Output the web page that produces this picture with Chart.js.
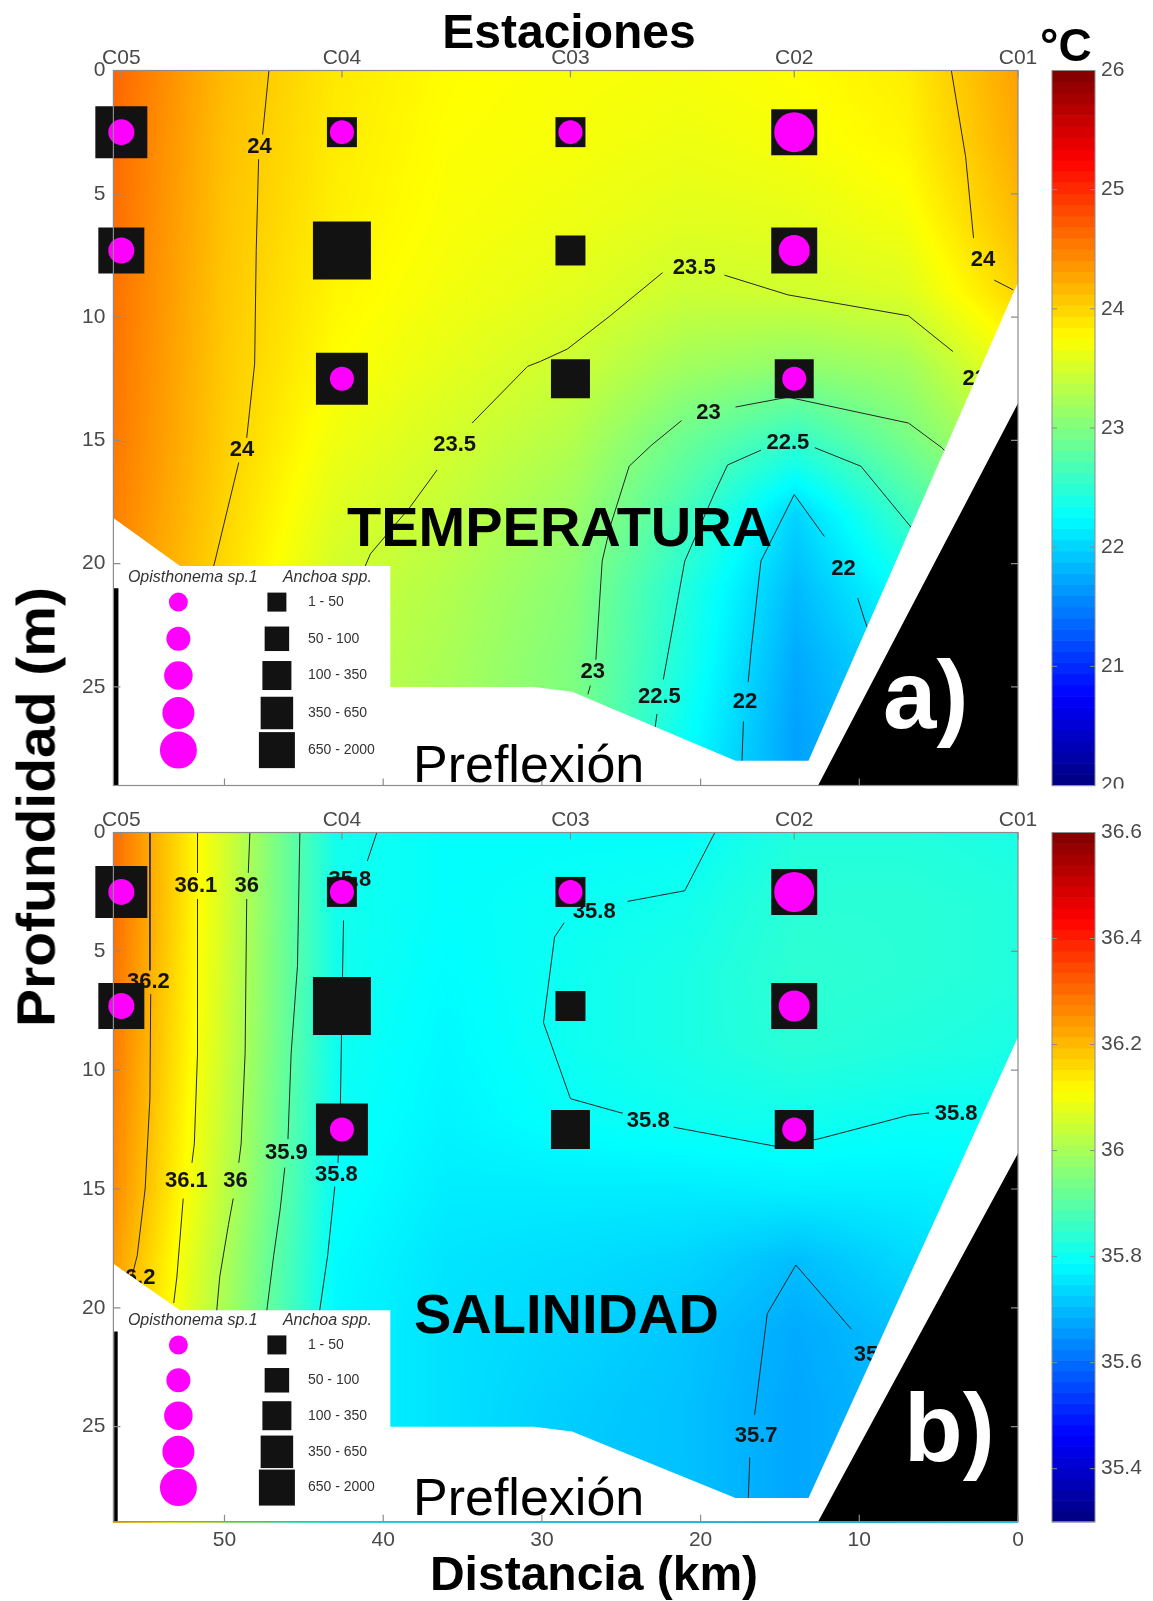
<!DOCTYPE html>
<html><head><meta charset="utf-8">
<script src="https://cdn.jsdelivr.net/npm/chart.js@4.4.1/dist/chart.umd.min.js"></script>
<style>
html,body{margin:0;padding:0;background:#fff}
body{position:relative;width:1153px;height:1601px;overflow:hidden;font-family:"Liberation Sans",Arial,sans-serif}
canvas{position:absolute;left:0}
.t{position:absolute;white-space:nowrap;line-height:1;color:#000;font-weight:bold}
</style></head><body>
<canvas id="panelA" width="1153" height="800" style="top:0"></canvas>
<canvas id="panelB" width="1153" height="801" style="top:800px"></canvas>
<div class="t" style="left:569px;top:8px;font-size:48px;transform:translateX(-50%)">Estaciones</div>
<div class="t" style="left:1040px;top:22px;font-size:46px">°C</div>
<div class="t" style="left:347px;top:499px;font-size:56px">TEMPERATURA</div>
<div class="t" style="left:414px;top:1286px;font-size:56px">SALINIDAD</div>
<div class="t" style="left:413px;top:738px;font-size:52px;font-weight:normal">Preflexión</div>
<div class="t" style="left:413px;top:1471px;font-size:52px;font-weight:normal">Preflexión</div>
<div class="t" style="left:883px;top:647px;font-size:96px;color:#fff">a)</div>
<div class="t" style="left:904px;top:1380px;font-size:96px;color:#fff">b)</div>
<div class="t" style="left:36px;top:807px;font-size:53px;transform:translate(-50%,-50%) rotate(-90deg) scaleX(1.075)">Profundidad (m)</div>
<div class="t" style="left:594px;top:1550px;font-size:48px;transform:translateX(-50%)">Distancia (km)</div>
<script>
// ---------- DATA ----------
const stationNames = ['C05','C04','C03','C02','C01'];
const stationKm = [56.5, 42.6, 28.2, 14.1, 0];
const distanceTicks = [0, 10, 20, 30, 40, 50];
const depthTicks = [0, 5, 10, 15, 20, 25];
const distanceMax = 57;
const depthMax = 29;

const gridKm = [57, 50, 43, 36, 28, 21, 14, 7, 0];
const gridDepth = [0, 3, 6, 9, 12, 15, 18, 21, 24, 27, 29];

const temperatureGrid = [
  [24.65,24.15,23.88,23.76,23.72,23.70,23.75,23.85,24.30],
  [24.62,24.12,23.86,23.74,23.70,23.65,23.70,23.80,24.25],
  [24.60,24.10,23.84,23.72,23.65,23.58,23.60,23.70,24.15],
  [24.58,24.08,23.80,23.68,23.58,23.45,23.48,23.55,24.00],
  [24.56,24.06,23.75,23.60,23.45,23.20,23.10,23.20,23.70],
  [24.54,24.04,23.66,23.50,23.30,22.88,22.55,22.95,23.40],
  [24.50,24.00,23.56,23.40,23.15,22.65,22.00,22.60,23.10],
  [24.45,23.96,23.46,23.30,23.05,22.45,21.85,22.30,22.80],
  [24.40,23.92,23.40,23.25,23.00,22.40,21.75,22.10,22.60],
  [24.40,23.90,23.38,23.22,22.98,22.30,21.70,22.00,22.50],
  [24.40,23.90,23.36,23.20,22.95,22.25,21.70,22.00,22.50]
];
const salinityGrid = [
  [36.30,36.06,35.81,35.79,35.79,35.79,35.83,35.83,35.82],
  [36.30,36.06,35.81,35.79,35.80,35.81,35.84,35.84,35.83],
  [36.29,36.055,35.81,35.785,35.805,35.82,35.845,35.84,35.83],
  [36.28,36.05,35.805,35.78,35.805,35.82,35.84,35.83,35.82],
  [36.27,36.04,35.80,35.775,35.795,35.805,35.81,35.80,35.80],
  [36.26,36.03,35.795,35.765,35.765,35.765,35.77,35.77,35.78],
  [36.24,36.01,35.785,35.755,35.745,35.735,35.705,35.74,35.76],
  [36.23,36.00,35.78,35.75,35.735,35.715,35.68,35.71,35.75],
  [36.22,36.00,35.78,35.75,35.725,35.71,35.675,35.70,35.74],
  [36.22,36.00,35.78,35.75,35.72,35.71,35.675,35.70,35.74],
  [36.22,36.00,35.78,35.75,35.72,35.71,35.675,35.70,35.74]
];
const temperatureRange = [20, 26];
const temperatureBarTicks = [20, 21, 22, 23, 24, 25, 26];
const salinityRange = [35.3, 36.6];
const salinityBarTicks = [35.4, 35.6, 35.8, 36, 36.2, 36.4, 36.6];

// catches per sample (station index, depth, abundance class)
const sampleStation = [0, 0, 1, 1, 1, 2, 2, 2, 3, 3, 3];
const sampleDepth = [2.5, 7.3, 2.5, 7.3, 12.5, 2.5, 7.3, 12.5, 2.5, 7.3, 12.5];
const anchoaClass = [4, 3, 1, 5, 4, 1, 1, 2, 3, 3, 2];
const opisthonemaClass = [2, 2, 1, 0, 1, 1, 0, 0, 5, 3, 1];
const abundanceClasses = ['1 - 50', '50 - 100', '100 - 350', '350 - 650', '650 - 2000'];

// sampled-domain lower edge and seabed
const sampledEdgeKm = [57, 52.8, 39.55, 39.55, 30.5, 28.1, 17.8, 13.2, 0];
const sampledEdgeDepth = [18.15, 20.1, 20.1, 25.0, 25.0, 25.2, 28.0, 28.0, 8.6];
const seabedKm = [12.6, 0, 0];
const seabedDepth = [29, 13.5, 29];
const coastBarKm = [56.84, 56.84];
const coastBarDepth = [21.0, 29];

// temperature isolines
const temp24West = [[47.2,0],[47.6,2.6],null,[47.85,3.6],[48.0,7.3],[48.1,11.9],[48.6,14.9],null,[49.1,15.9],[50.6,19.9],[50.9,20.6]];
const temp24East = [[4.2,0],[3.3,3.5],[2.8,6.8],null,[1.5,8.5],[0.3,8.9]];
const temp235 = [[41.2,20.2],[40.8,19.6],[38.3,17.7],[36.6,16.2],null,[34.4,14.3],[30.9,12.0],[30.1,11.8],[28.4,11.3],[25.7,9.95],[22.4,8.2],null,[18.5,8.3],[14.5,9.1],[6.9,9.95],[4.1,11.4]];
const temp23 = [[27.1,25.3],[26.95,24.95],null,[26.6,23.9],[26.2,19.9],[25.7,18.5],[24.5,16.05],[23.1,15.2],[21.2,14.2],null,[17.8,13.65],[14.5,13.25],[6.9,14.3],[4.8,15.3],[3.6,16.1]];
const temp225 = [[22.9,26.8],[22.75,26.1],null,[22.35,24.7],[21.0,19.9],[19.1,17.1],[18.3,16.0],[16.2,15.4],null,[12.8,15.3],[9.9,16.05],[6.9,18.4],[5.4,19.6]];
const temp22 = [[17.4,28.1],[17.3,26.4],null,[17.0,24.8],[16.8,23.4],[16.2,19.9],[14.1,17.2],[12.2,18.9],null,[10.1,21.4],[9.66,22.3],[8.8,23.8]];
const tempLabelText = ['24','24','24','23.5','23.5','23.5','23','23','22.5','22.5','22','22'];
const tempLabelKm = [47.8, 48.9, 2.2, 35.5, 20.4, 2.15, 26.8, 19.5, 22.6, 14.5, 17.2, 11.0];
const tempLabelDepth = [3.1, 15.4, 7.7, 15.2, 8.0, 12.5, 24.4, 13.9, 25.4, 15.1, 25.6, 20.2];

// salinity isolines
const sal362 = [[54.7,0],[54.7,5.8],null,[54.65,6.8],[54.7,11.2],[55.0,15.0],[55.5,17.8],[55.8,18.6]];
const sal361 = [[51.7,0],[51.7,1.7],null,[51.7,2.8],[51.7,9.3],[51.9,13.1],[52.05,13.9],null,[52.6,15.4],[53.0,18.7],[53.2,19.8]];
const sal360 = [[48.4,0],[48.5,1.7],null,[48.6,2.8],[48.7,9.3],[48.95,13.1],[49.1,13.9],null,[49.45,15.4],[49.75,16.5],[50.3,18.7],[50.5,20.2]];
const sal359 = [[45.25,0],[45.4,5.6],[45.8,9.3],[46.0,12.9],null,[46.2,14.1],[46.5,15.9],[46.9,17.8],[47.35,20.2]];
const sal358West = [[40.4,0],[41.0,1.2],null,[42.5,3.7],[42.6,7.4],[42.7,11.6],[42.85,13.9],null,[43.05,14.9],[43.5,17.8],[44.0,20.1],[44.3,22.0]];
const sal358East = [[19.1,0],[21.0,2.45],[24.6,2.9],null,[28.6,3.8],[29.2,4.4],[29.9,8.0],[28.2,11.2],[25.0,11.8],[24.9,11.8],null,[21.7,12.4],[15.3,13.2],[12.6,12.9],[6.9,11.9],[5.6,11.8]];
const sal357 = [[17.0,28.1],[16.9,26.3],null,[16.6,24.5],[16.5,24.0],[15.8,20.25],[14.0,18.2],[10.5,20.9]];
const salLabelText = ['36.2','36.2','36.1','36.1','36','36','35.9','35.8','35.8','35.8','35.8','35.8','35.7','35.7'];
const salLabelKm = [54.8, 55.7, 51.8, 52.4, 48.6, 49.3, 46.1, 42.1, 42.95, 26.7, 23.3, 3.9, 16.5, 9.0];
const salLabelDepth = [6.3, 18.75, 2.25, 14.65, 2.25, 14.65, 13.5, 2.0, 14.4, 3.36, 12.15, 11.85, 25.4, 22.0];

// ---------- STYLE ----------
const squareSide = [0, 30, 39, 46, 52, 58];
const circleDiam = [0, 24, 26, 31, 35, 40];
const legendCircle = [19, 24, 28.5, 32, 37];
const legendSquare = [19, 24.5, 29, 32.5, 36];
const legendRowFrac = [0.7435, 0.7948, 0.8462, 0.8986, 0.9505];
const AREA_LEFT = 113.4, AREA_RIGHT = 1018;
const CB_X0 = 1052, CB_X1 = 1095;
const FONT = '"Liberation Sans", Arial, sans-serif';
const tickColor = '#4a4a4a';
const frameColor = '#8c8c8c';

function jet(v){
  v = Math.max(0, Math.min(1, v));
  const c = x => Math.max(0, Math.min(1, x));
  return [c(1.5 - Math.abs(4*v - 3)), c(1.5 - Math.abs(4*v - 2)), c(1.5 - Math.abs(4*v - 1))];
}
function interpIndex(arr, v){
  for (let i = 0; i < arr.length - 1; i++){
    const a = arr[i], b = arr[i+1];
    if (v >= Math.min(a,b) && v <= Math.max(a,b)) return [i, (v - a)/(b - a)];
  }
  return Math.abs(v - arr[0]) < Math.abs(v - arr[arr.length-1]) ? [0, 0] : [arr.length-2, 1];
}

function makePanel(cfg){
  const canvas = document.getElementById(cfg.id);
  const H = canvas.height;
  const toPts = arr => arr.map(p => p ? {x:p[0], y:p[1]} : {x:null, y:null});
  const datasets = [];
  const circ = [], circR = [], sq = [], sqR = [];
  sampleStation.forEach((s, i) => {
    sq.push({x: stationKm[s], y: sampleDepth[i]});
    sqR.push(squareSide[anchoaClass[i]] / Math.SQRT2);
    if (opisthonemaClass[i] > 0){
      circ.push({x: stationKm[s], y: sampleDepth[i]});
      circR.push(circleDiam[opisthonemaClass[i]] / 2);
    }
  });
  datasets.push({type:'scatter', data:circ, pointRadius:circR, pointHoverRadius:0, pointStyle:'circle', backgroundColor:'#ff00ff', borderColor:'#ff00ff', pointBorderWidth:0, order:0, clip:false});
  datasets.push({type:'scatter', data:sq, pointRadius:sqR, pointHoverRadius:0, pointStyle:'rect', backgroundColor:'#121212', borderColor:'#121212', pointBorderWidth:0, order:1, clip:false});
  datasets.push({type:'line', data:seabedKm.map((k,i)=>({x:k, y:seabedDepth[i]})), fill:'shape', backgroundColor:'#000', borderColor:'rgba(0,0,0,0)', borderWidth:0, pointRadius:0, tension:0, order:2});
  datasets.push({type:'line', data:coastBarKm.map((k,i)=>({x:k, y:coastBarDepth[i]})), fill:false, borderColor:'#000', borderWidth:cfg.barWidth, pointRadius:0, order:2});
  const maskPts = sampledEdgeKm.map((k,i)=>({x:k, y:sampledEdgeDepth[i]})).concat([{x:0, y:depthMax}, {x:distanceMax, y:depthMax}]);
  datasets.push({type:'line', data:maskPts, fill:'shape', backgroundColor:'#fff', borderColor:'rgba(0,0,0,0)', borderWidth:0, pointRadius:0, tension:0, order:3});
  datasets.push({type:'scatter', data:cfg.labelKm.map((k,i)=>({x:k, y:cfg.labelDepth[i]})), pointRadius:0, pointHoverRadius:0, order:3.5, isLabels:true, labelText:cfg.labelText});
  cfg.contours.forEach(c => datasets.push({type:'line', data:toPts(c), borderColor:'#262626', borderWidth:1, pointRadius:0, fill:false, spanGaps:false, tension:0, order:4}));

  const tickFont = {family: FONT, size: 21};
  const plugin = {
    id: 'panelDecor',
    beforeDatasetsDraw(chart){
      const {ctx, chartArea:a, scales:{x, y}} = chart;
      const w = Math.ceil(a.right - a.left), h = Math.ceil(a.bottom - a.top);
      const off = document.createElement('canvas'); off.width = w; off.height = h;
      const octx = off.getContext('2d'); const img = octx.createImageData(w, h);
      const cols = [];
      for (let px = 0; px < w; px++) cols.push(interpIndex(gridKm, x.getValueForPixel(a.left + px + 0.5)));
      const g = cfg.grid, lo = cfg.range[0], span = cfg.range[1] - cfg.range[0];
      for (let py = 0; py < h; py++){
        const [j, u] = interpIndex(gridDepth, y.getValueForPixel(a.top + py + 0.5));
        for (let px = 0; px < w; px++){
          const [i, t] = cols[px];
          const val = (g[j][i]*(1-t) + g[j][i+1]*t)*(1-u) + (g[j+1][i]*(1-t) + g[j+1][i+1]*t)*u;
          const c = jet((val - lo)/span);
          const k = (py*w + px)*4;
          img.data[k] = c[0]*255; img.data[k+1] = c[1]*255; img.data[k+2] = c[2]*255; img.data[k+3] = 255;
        }
      }
      octx.putImageData(img, 0, 0);
      ctx.drawImage(off, a.left, a.top);
    },
    afterDatasetDraw(chart, args){
      const ds = chart.data.datasets[args.index];
      if (!ds.isLabels) return;
      const {ctx, chartArea:a} = chart;
      ctx.save();
      ctx.beginPath(); ctx.rect(a.left, a.top, a.right - a.left, a.bottom - a.top); ctx.clip();
      ctx.font = 'bold 22px ' + FONT; ctx.fillStyle = '#141414';
      ctx.textAlign = 'center'; ctx.textBaseline = 'middle';
      args.meta.data.forEach((el, i) => ctx.fillText(ds.labelText[i], el.x, el.y));
      ctx.restore();
    },
    afterDatasetsDraw(chart){
      const {ctx, chartArea:a, scales:{x, y, xTop}} = chart;
      ctx.save();
      ctx.strokeStyle = frameColor; ctx.lineWidth = 1.2;
      ctx.strokeRect(a.left, a.top, a.right - a.left, a.bottom - a.top);
      const L = 7;
      ctx.beginPath();
      distanceTicks.forEach(v => { const px = x.getPixelForValue(v); ctx.moveTo(px, a.bottom); ctx.lineTo(px, a.bottom - L); });
      stationKm.forEach(v => { const px = xTop.getPixelForValue(v); ctx.moveTo(px, a.top); ctx.lineTo(px, a.top + L); });
      depthTicks.forEach(v => { const py = y.getPixelForValue(v); ctx.moveTo(a.left, py); ctx.lineTo(a.left + L, py); ctx.moveTo(a.right, py); ctx.lineTo(a.right - L, py); });
      ctx.stroke();
      // legend
      const h = a.bottom - a.top, Lx = a.left;
      const hy = a.top + 0.7085*h;
      ctx.fillStyle = '#333'; ctx.textBaseline = 'middle'; ctx.textAlign = 'left';
      ctx.font = 'italic 16px ' + FONT;
      ctx.fillText('Opisthonema sp.1', Lx + 14.5, hy);
      ctx.fillText('Anchoa spp.', Lx + 169.5, hy);
      ctx.font = '14px ' + FONT;
      abundanceClasses.forEach((lab, i) => {
        const ry = a.top + legendRowFrac[i]*h;
        ctx.fillStyle = '#ff00ff';
        ctx.beginPath(); ctx.arc(Lx + 65, ry, legendCircle[i]/2, 0, Math.PI*2); ctx.fill();
        ctx.fillStyle = '#121212';
        const s = legendSquare[i];
        ctx.fillRect(Lx + 163.5 - s/2, ry - s/2, s, s);
        ctx.fillStyle = '#333';
        ctx.fillText(lab, Lx + 194.5, ry);
      });
      ctx.restore();
    },
    afterDraw(chart){
      const {ctx, chartArea:a} = chart;
      const top = a.top, bot = a.bottom, n = 64;
      ctx.save();
      for (let k = 0; k < n; k++){
        const c = jet((k + 0.5)/n);
        ctx.fillStyle = `rgb(${Math.round(c[0]*255)},${Math.round(c[1]*255)},${Math.round(c[2]*255)})`;
        const y0 = bot - (k+1)/n*(bot - top), y1 = bot - k/n*(bot - top);
        ctx.fillRect(CB_X0, y0, CB_X1 - CB_X0, y1 - y0 + 0.6);
      }
      ctx.strokeStyle = frameColor; ctx.lineWidth = 1;
      ctx.strokeRect(CB_X0, top, CB_X1 - CB_X0, bot - top);
      const lo = cfg.range[0], span = cfg.range[1] - cfg.range[0];
      ctx.beginPath(); ctx.rect(0, 0, 1153, bot + cfg.cbClip); ctx.clip();
      ctx.fillStyle = tickColor; ctx.font = '21px ' + FONT; ctx.textAlign = 'left'; ctx.textBaseline = 'middle';
      ctx.beginPath();
      cfg.barTicks.forEach(t => {
        const py = bot - (t - lo)/span*(bot - top);
        ctx.moveTo(CB_X0, py); ctx.lineTo(CB_X0 + 5, py);
        ctx.moveTo(CB_X1, py); ctx.lineTo(CB_X1 - 5, py);
      });
      ctx.stroke();
      cfg.barTicks.forEach(t => {
        const py = bot - (t - lo)/span*(bot - top);
        ctx.fillText(String(t), CB_X1 + 6, py);
      });
      ctx.restore();
    }
  };

  return new Chart(canvas, {
    type: 'scatter',
    data: {datasets},
    options: {
      responsive: false, maintainAspectRatio: false, animation: false, devicePixelRatio: 1,
      layout: {autoPadding: false, padding: {left: 0, top: 0, right: 1153 - AREA_RIGHT, bottom: 0}},
      plugins: {legend: {display: false}, tooltip: {enabled: false}},
      events: [],
      scales: {
        x: {type:'linear', position:'bottom', min:0, max:distanceMax, reverse:true,
            afterBuildTicks: s => { s.ticks = distanceTicks.map(v => ({value: v})); },
            afterFit: s => { s.height = H - cfg.areaBottom; s.paddingLeft = 0; s.paddingRight = 0; },
            grid: {display:false, drawTicks:false}, border: {display:false},
            ticks: {display: cfg.showDistance, autoSkip:false, maxRotation:0, padding:6, font:tickFont, color:tickColor}},
        xTop: {type:'linear', position:'top', min:0, max:distanceMax, reverse:true,
            afterBuildTicks: s => { s.ticks = stationKm.map(v => ({value: v})); },
            afterFit: s => { s.height = cfg.areaTop; s.paddingLeft = 0; s.paddingRight = 0; },
            grid: {display:false, drawTicks:false}, border: {display:false},
            ticks: {autoSkip:false, maxRotation:0, padding:cfg.topPad, font:tickFont, color:tickColor, callback: (v, i) => stationNames[i]}},
        y: {type:'linear', position:'left', min:0, max:depthMax, reverse:true,
            afterBuildTicks: s => { s.ticks = depthTicks.map(v => ({value: v})); },
            afterFit: s => { s.width = AREA_LEFT; s.paddingTop = 0; s.paddingBottom = 0; },
            grid: {display:false, drawTicks:false}, border: {display:false},
            ticks: {autoSkip:false, padding:8, font:tickFont, color:tickColor}}
      }
    },
    plugins: [plugin]
  });
}

makePanel({id:'panelA', grid:temperatureGrid, range:temperatureRange, barTicks:temperatureBarTicks,
  contours:[temp24West, temp24East, temp235, temp23, temp225, temp22],
  labelText:tempLabelText, labelKm:tempLabelKm, labelDepth:tempLabelDepth,
  areaTop:70.5, areaBottom:785.5, showDistance:false, topPad:0, barWidth:5, cbClip:3});
makePanel({id:'panelB', grid:salinityGrid, range:salinityRange, barTicks:salinityBarTicks,
  contours:[sal362, sal361, sal360, sal359, sal358West, sal358East, sal357],
  labelText:salLabelText, labelKm:salLabelKm, labelDepth:salLabelDepth,
  areaTop:32.5, areaBottom:721.7, showDistance:true, topPad:0, barWidth:3.5, cbClip:20});
</script>
</body></html>
